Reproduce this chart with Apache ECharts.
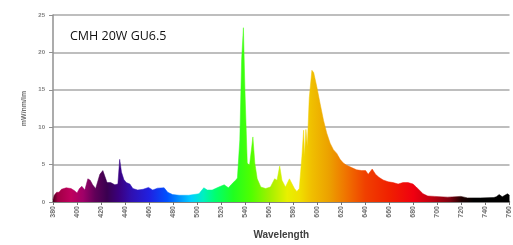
<!DOCTYPE html>
<html>
<head>
<meta charset="utf-8">
<script src="https://cdn.jsdelivr.net/npm/echarts@6/dist/echarts.min.js"></script>
<style>
  html, body { margin: 0; padding: 0; background: #fff; }
  #chart { width: 513px; height: 245px; }
</style>
</head>
<body>
<div id="chart"></div>
<script>
// spectrum: wavelength (nm) and mW/nm/lm
var wavelengths = [380, 381, 383, 385, 387, 391, 395, 398, 400, 402, 404, 406.5, 409, 411, 413, 415.5,
  419, 421.5, 423, 425, 428, 431.5, 434, 435.5, 437, 439, 441, 444, 446.5, 450.5, 455, 459.5,
  463, 467, 472.5, 475.5, 479.5, 485, 493, 501.5, 505.5, 508.5, 512.5, 518, 522.5, 526, 530,
  532, 533.5, 535.5, 537, 538.5, 539.8, 541.7, 543.6, 546.4, 548, 550, 553, 557, 561, 564.5,
  566.5, 568.7, 570.6, 573.5, 576.8, 578.4, 581, 583, 585, 587.2, 588.6, 589.4, 590.5, 591.7,
  593.3, 595.5, 597, 599.6, 602.4, 605.2, 607.9, 610.7, 613.4, 616.2, 619, 621.7, 624.5, 628.6,
  632.7, 636.9, 640.2, 642.4, 645.7, 648.5, 651.3, 654.8, 659, 663, 667.3, 671.4, 675.5, 679.7,
  682.4, 684, 688, 692, 697.5, 708.5, 719.5, 725, 736, 747, 749, 751.4, 754, 758.3, 760];
var power = [0.3, 0.9, 1.3, 1.3, 1.7, 1.9, 1.8, 1.5, 1.2, 1.8, 2.1, 1.6, 3.1, 2.9, 2.3, 1.8,
  3.7, 4.2, 4.0, 2.6, 2.6, 2.3, 2.4, 5.7, 4.0, 3.0, 2.6, 2.4, 1.8, 1.6, 1.7, 1.95,
  1.6, 1.85, 1.9, 1.3, 1.0, 0.9, 0.9, 1.1, 1.9, 1.6, 1.6, 2.0, 2.3, 1.9, 2.6,
  2.9, 3.2, 8.3, 19, 23.3, 14.8, 5.2, 4.9, 8.7, 5.2, 3.1, 2.0, 1.8, 2.0, 3.1,
  2.9, 4.8, 2.9, 2.0, 3.1, 3.3, 1.8, 1.4, 1.8, 6.1, 9.6, 6.1, 9.7, 7.5,
  13.9, 17.6, 17.3, 15.4, 13.1, 10.9, 9.2, 7.85, 7.0, 6.5, 5.7, 5.2, 4.9, 4.6,
  4.3, 4.2, 4.2, 3.7, 4.4, 3.7, 3.3, 2.95, 2.7, 2.6, 2.4, 2.6, 2.6, 2.4,
  2.0, 2.0, 1.1, 0.8, 0.75, 0.65, 0.75, 0.55, 0.55, 0.6, 0.7, 1.0, 0.7, 1.1, 0.9];

// colour of the fill along the wavelength axis
var colorNm = [380, 384, 395, 405, 415, 425, 435, 445, 460, 475, 485, 495, 505, 515, 530, 545,
  560, 575, 585, 595, 610, 625, 640, 660, 680, 695, 710, 720, 730, 760];
var colorHex = ['#400018', '#a00045', '#c0005e', '#a00068', '#600058', '#3a0050', '#3a0080', '#3010b0',
  '#2020e0', '#0050ff', '#0090ff', '#00d0ff', '#00f0c0', '#00ff70', '#20ff20', '#50ff00',
  '#a0f000', '#e8f000', '#f0e000', '#f0c000', '#eca000', '#f07000', '#f04000', '#f02000',
  '#f00010', '#c00010', '#800010', '#200000', '#000000', '#000000'];

var seriesData = [];
for (var i = 0; i < wavelengths.length; i++) {
  seriesData.push([wavelengths[i], power[i]]);
}

var stops = [];
for (var j = 0; j < colorNm.length; j++) {
  stops.push({ offset: (colorNm[j] - 380) / 380, color: colorHex[j] });
}
var fill = new echarts.graphic.LinearGradient(0, 0, 1, 0, stops);

var myChart = echarts.init(document.getElementById('chart'));
var option = {
  animation: false,
  backgroundColor: '#fff',
  grid: { left: 53, right: 1, top: 15, bottom: 38 },
  graphic: [{
    type: 'text', left: 70, top: 30,
    style: { text: 'CMH 20W GU6.5', fill: '#111', font: '500 12.5px "Open Sans", sans-serif' }
  }],
  xAxis: {
    type: 'value', min: 380, max: 760, interval: 20,
    name: 'Wavelength', nameLocation: 'middle', nameGap: 28,
    nameTextStyle: { color: '#404040', fontSize: 10, fontWeight: 'bold', fontFamily: 'Liberation Sans' },
    axisLine: { show: true, lineStyle: { color: '#707070', width: 1.5 } },
    axisTick: { show: true, length: 3, lineStyle: { color: '#707070' } },
    axisLabel: { rotate: 90, fontSize: 7, fontWeight: 'bold', color: '#707070', fontFamily: 'Liberation Sans', margin: 4 },
    splitLine: { show: false }
  },
  yAxis: {
    type: 'value', min: 0, max: 25, interval: 5,
    name: 'mW/nm/lm', nameLocation: 'middle', nameGap: 25,
    nameTextStyle: { color: '#707070', fontSize: 7, fontWeight: 'bold', fontFamily: 'Liberation Sans' },
    axisLine: { show: true, lineStyle: { color: '#909090', width: 1.5 } },
    axisTick: { show: true, length: 4, lineStyle: { color: '#909090' } },
    axisLabel: { fontSize: 6, fontWeight: 'bold', color: '#808080', fontFamily: 'Liberation Sans', margin: 8 },
    splitLine: { show: true, lineStyle: { color: '#a8a8a8', width: 1.5 } }
  },
  series: [{
    type: 'line',
    data: seriesData,
    showSymbol: false,
    smooth: false,
    lineStyle: { width: 0.5, color: fill },
    areaStyle: { color: fill, opacity: 1 },
    z: 3
  }]
};
myChart.setOption(option);
</script>
</body>
</html>
